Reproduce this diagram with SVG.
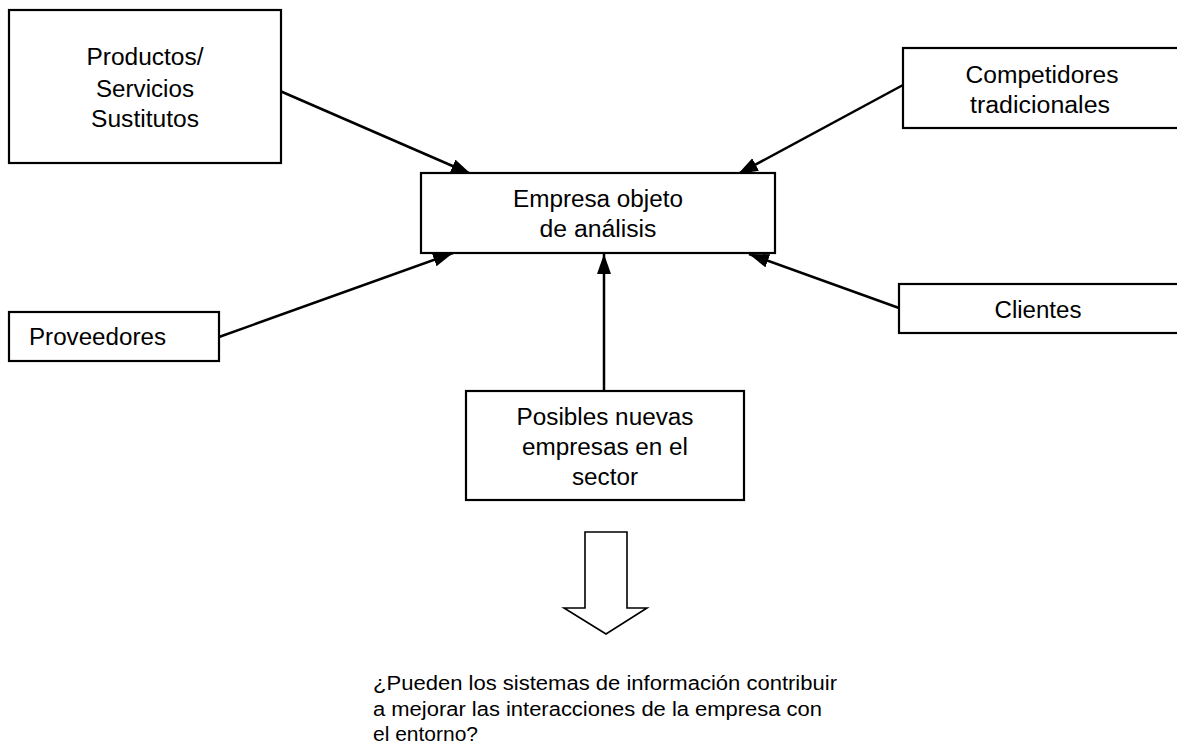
<svg xmlns="http://www.w3.org/2000/svg" width="1177" height="747" viewBox="0 0 1177 747">
<style>
.box{fill:#fff;stroke:#000;stroke-width:2.2}
.t{font-family:"Liberation Sans",Arial,sans-serif;font-size:23px;fill:#000}
.c{text-anchor:middle}
.q{font-family:"Liberation Sans",Arial,sans-serif;font-size:20px;fill:#000}
.ln{stroke:#000;stroke-width:2.5;fill:none}
</style>
<defs>
<marker id="ah" markerUnits="userSpaceOnUse" markerWidth="22" markerHeight="16" refX="20" refY="7" orient="auto">
<path d="M0,0 L20,7 L0,14 Z" fill="#000"/>
</marker>
</defs>
<rect width="1177" height="747" fill="#fff"/>
<g id="connectors">
<line class="ln" x1="280" y1="91" x2="471" y2="174" marker-end="url(#ah)"/>
<line class="ln" x1="903" y1="85" x2="738" y2="174" marker-end="url(#ah)"/>
<line class="ln" x1="219" y1="337" x2="453" y2="253" marker-end="url(#ah)"/>
<line class="ln" x1="899" y1="308" x2="749" y2="254" marker-end="url(#ah)"/>
<line class="ln" x1="604" y1="391" x2="604" y2="254" marker-end="url(#ah)"/>
</g>
<g id="sustitutos">
<rect class="box" x="9" y="10" width="272" height="153"/>
<text class="t c" x="145" y="65" textLength="117" lengthAdjust="spacingAndGlyphs">Productos/</text>
<text class="t c" x="145" y="97" textLength="98" lengthAdjust="spacingAndGlyphs">Servicios</text>
<text class="t c" x="145" y="127" textLength="108" lengthAdjust="spacingAndGlyphs">Sustitutos</text>
</g>
<g id="competidores">
<rect class="box" x="903" y="48" width="290" height="80"/>
<text class="t c" x="1042" y="83" textLength="153" lengthAdjust="spacingAndGlyphs">Competidores</text>
<text class="t c" x="1040" y="113" textLength="140" lengthAdjust="spacingAndGlyphs">tradicionales</text>
</g>
<g id="empresa">
<rect class="box" x="421" y="173" width="354" height="80"/>
<text class="t c" x="598" y="207" textLength="170" lengthAdjust="spacingAndGlyphs">Empresa objeto</text>
<text class="t c" x="598" y="237" textLength="117" lengthAdjust="spacingAndGlyphs">de análisis</text>
</g>
<g id="proveedores">
<rect class="box" x="9" y="312" width="210" height="49"/>
<text class="t" x="29" y="345" textLength="137" lengthAdjust="spacingAndGlyphs">Proveedores</text>
</g>
<g id="clientes">
<rect class="box" x="899" y="284" width="290" height="49"/>
<text class="t c" x="1038" y="318" textLength="87" lengthAdjust="spacingAndGlyphs">Clientes</text>
</g>
<g id="nuevas">
<rect class="box" x="466" y="391" width="278" height="109"/>
<text class="t c" x="605" y="425" textLength="177" lengthAdjust="spacingAndGlyphs">Posibles nuevas</text>
<text class="t c" x="605" y="455" textLength="166" lengthAdjust="spacingAndGlyphs">empresas en el</text>
<text class="t c" x="605" y="485" textLength="66" lengthAdjust="spacingAndGlyphs">sector</text>
</g>
<g id="flecha">
<polygon points="585,532 627,532 627,608 647,608 606,634 564,608 585,608" fill="#fff" stroke="#000" stroke-width="1.6"/>
</g>
<g id="pregunta">
<text class="q" x="373" y="690" textLength="464" lengthAdjust="spacingAndGlyphs">¿Pueden los sistemas de información contribuir</text>
<text class="q" x="373" y="716" textLength="449" lengthAdjust="spacingAndGlyphs">a mejorar las interacciones de la empresa con</text>
<text class="q" x="373" y="741" textLength="105" lengthAdjust="spacingAndGlyphs">el entorno?</text>
</g>
</svg>
